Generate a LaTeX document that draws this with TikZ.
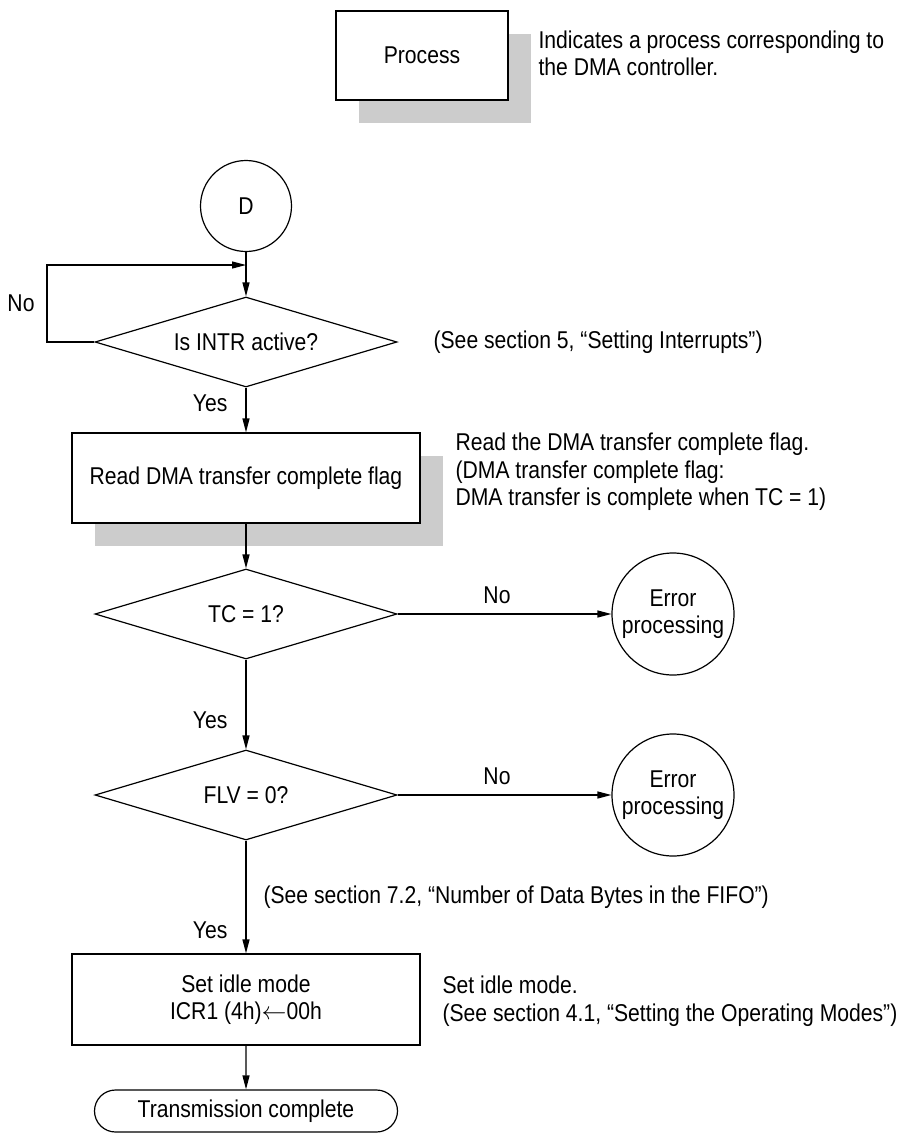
\documentclass[tikz,border=0pt]{standalone}
\usepackage{fontspec}
\setmainfont{Liberation Sans}[FakeStretch=0.87]
\usetikzlibrary{shapes.geometric,shapes.misc,arrows.meta,shadows}

\tikzset{
  lbl/.style={font=\fontsize{24.3}{27.5}\selectfont, inner sep=0pt},
  grayshadow/.style={drop shadow={shadow xshift=23pt, shadow yshift=-23pt, fill=black!20, opacity=1, draw=none}},
  procbox/.style={draw, fill=white, minimum width=348pt, minimum height=90pt, inner sep=0pt, lbl, align=center},
  decision/.style={draw, diamond, aspect=3.33, minimum width=302pt, minimum height=90pt, inner sep=0pt, lbl},
  conn/.style={draw, circle, minimum size=91pt, inner sep=0pt, lbl},
  errnode/.style={draw, circle, minimum size=122pt, inner sep=0pt, lbl, align=center},
  term/.style={draw, rounded rectangle, minimum width=303pt, minimum height=42pt, inner sep=0pt, lbl},
  flow/.style={-{Triangle[length=14pt,width=7pt]}},
  note/.style={lbl, anchor=west, align=left},
}

\begin{document}
\begin{tikzpicture}[x=1pt, y=-1pt, line width=1.2pt]
\useasboundingbox (0,0) rectangle (908,1133);

% legend
\node[procbox, grayshadow, minimum width=172pt, minimum height=89pt] (legend) at (422,55.5) {Process};
\node[note] (legendtxt) at (538,53.5) {Indicates a process corresponding to\\the DMA controller.};

% main flow
\node[conn] (d) at (246,206) {D};
\node[decision] (q1) at (246,342) {Is INTR active?};
\node[procbox, grayshadow] (read) at (246,478) {Read DMA transfer complete flag};
\node[decision] (q2) at (246,614) {TC = 1?};
\node[decision] (q3) at (246,795) {FLV = 0?};
\node[procbox, minimum height=91pt] (idle) at (246,999.5) {Set idle mode\\ICR1 (4h)$\leftarrow$00h};
\node[term] (done) at (246,1111) {Transmission complete};

\node[errnode] (e1) at (673,614) {Error\\processing};
\node[errnode] (e2) at (673,795) {Error\\processing};

% loop back on "No"
\coordinate (j) at (246,265);
\coordinate (lp) at (47,265);

\draw[flow] (d) -- (q1);
\draw[flow] (q1.west) -| (lp) -- (j);
\draw[flow] (q1) -- (read);
\draw[flow] (read) -- (q2);
\draw[flow] (q2) -- (q3);
\draw[flow] (q3) -- (idle);
\draw[flow] (idle) -- (done);
\draw[flow] (q2) -- (e1);
\draw[flow] (q3) -- (e2);

% branch labels
\node[lbl] (no1) at (21,303) {No};
\node[lbl, anchor=east] (yes1) at (228,403) {Yes};
\node[lbl] (no2) at (497,595) {No};
\node[lbl, anchor=east] (yes2) at (228,720) {Yes};
\node[lbl] (no3) at (497,776) {No};
\node[lbl, anchor=east] (yes3) at (228,930) {Yes};

% side notes
\node[note] (n1) at (433,342) {(See section 5, “Setting Interrupts”)};
\node[note] (n2) at (455,472) {Read the DMA transfer complete flag.\\(DMA transfer complete flag:\\DMA transfer is complete when TC = 1)};
\node[note] (n3) at (263,897) {(See section 7.2, “Number of Data Bytes in the FIFO”)};
\node[note] (n4) at (442,1001) {Set idle mode.\\(See section 4.1, “Setting the Operating Modes”)};
\end{tikzpicture}
\end{document}
